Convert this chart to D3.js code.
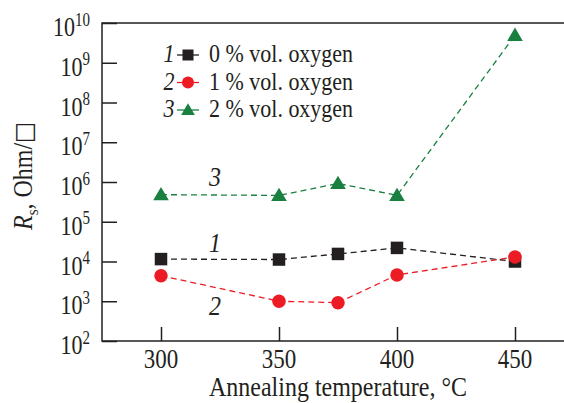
<!DOCTYPE html>
<html><head><meta charset="utf-8">
<script src="https://cdn.jsdelivr.net/npm/d3@7"></script>
<style>
html,body{margin:0;padding:0;background:#fff;}
svg{display:block;font-family:"Liberation Serif","Times New Roman",serif;}
</style></head>
<body>
<svg id="chart" width="564" height="403"></svg>
<script>
const temperatures = [300, 350, 375, 400, 450];
const series0 = [1.15e4, 1.12e4, 1.55e4, 2.2e4, 1.0e4];
const series1 = [4.4e3, 1.0e3, 0.92e3, 4.6e3, 1.3e4];
const series2 = [4.8e5, 4.6e5, 9.2e5, 4.6e5, 4.9e9];
const seriesNames = ["0 % vol. oxygen", "1 % vol. oxygen", "2 % vol. oxygen"];
const seriesNumbers = ["1", "2", "3"];
const xTicks = [300, 350, 400, 450];
const yExponents = [2, 3, 4, 5, 6, 7, 8, 9, 10];
const colors = ["#231f20", "#ed1c24", "#1a8040"];
const shapes = ["square", "circle", "triangle"];

const svg = d3.select("#chart");
const L = 102, T = 23, B = 341, R = 574;
const x = d3.scaleLinear().domain([275, 475]).range([L, R]);
const y = d3.scaleLog().domain([1e2, 1e10]).range([B, T]);
const ink = "#231f20";

// frame
svg.append("rect").attr("x", L).attr("y", T).attr("width", R - L).attr("height", B - T)
  .attr("fill", "none").attr("stroke", ink).attr("stroke-width", 1.5);

// y axis ticks inward
const yAxis = d3.axisRight(y).tickValues(yExponents.map(e => Math.pow(10, e)))
  .tickSize(15).tickFormat("");
const gy = svg.append("g").attr("transform", `translate(${L},0)`).call(yAxis);
gy.select(".domain").remove();
gy.selectAll("line").attr("stroke", ink).attr("stroke-width", 1.5);

// y tick labels (slightly stretched vertically like the reference)
const yl = svg.append("g");
yExponents.forEach(e => {
  const t = yl.append("text")
    .attr("transform", `translate(90,${y(Math.pow(10, e)) + 13}) scale(1,1.22)`)
    .attr("text-anchor", "end").attr("fill", ink).style("font-size", "22px");
  t.append("tspan").text("10");
  t.append("tspan").attr("dy", -8.5).style("font-size", "15px").text(String(e));
});

// x axis ticks inward
const xAxis = d3.axisTop(x).tickValues(xTicks).tickSize(14).tickFormat("");
const gx = svg.append("g").attr("transform", `translate(0,${B})`).call(xAxis);
gx.select(".domain").remove();
gx.selectAll("line").attr("stroke", ink).attr("stroke-width", 1.5);
xTicks.forEach(v => {
  svg.append("text").attr("transform", `translate(${x(v)},${B + 27}) scale(1,1.2)`)
    .attr("text-anchor", "middle").attr("fill", ink).style("font-size", "23px").text(v);
});

// axis titles
svg.append("text").attr("transform", `translate(${(x(300) + x(450)) / 2},396) scale(1,1.12)`)
  .attr("text-anchor", "middle").attr("fill", ink).style("font-size", "24px")
  .text("Annealing temperature, °C");

const yt = svg.append("text").attr("transform", "translate(32,176) rotate(-90) scale(1,1.12)")
  .attr("text-anchor", "middle").attr("fill", ink).style("font-size", "24px");
yt.append("tspan").style("font-style", "italic").text("R");
yt.append("tspan").attr("dy", 5).style("font-size", "15px").text("s");
yt.append("tspan").attr("dy", -5).text(", Ohm/");
yt.append("tspan").style("font-family", "DejaVu Sans").style("font-size", "22px").text("□");

function drawMarker(g, shape, cx, cy, color, s) {
  if (shape === "square") {
    g.append("rect").attr("x", cx - s / 2).attr("y", cy - s / 2).attr("width", s).attr("height", s).attr("fill", color);
  } else if (shape === "circle") {
    g.append("circle").attr("cx", cx).attr("cy", cy).attr("r", s / 2 + 0.5).attr("fill", color);
  } else {
    const h = s * 1.0, w = s * 1.25;
    g.append("path").attr("d", `M${cx},${cy - h * 0.62}L${cx + w / 2},${cy + h * 0.45}L${cx - w / 2},${cy + h * 0.45}Z`).attr("fill", color);
  }
}

const allSeries = [series0, series1, series2];
const line = d3.line().x(d => x(d[0])).y(d => y(d[1]));
allSeries.forEach((vals, i) => {
  const pts = temperatures.map((t, j) => [t, vals[j]]);
  svg.append("path").attr("d", line(pts)).attr("fill", "none")
    .attr("stroke", colors[i]).attr("stroke-width", 1.3).attr("stroke-dasharray", "6,4");
});
allSeries.forEach((vals, i) => {
  const g = svg.append("g");
  temperatures.forEach((t, j) => drawMarker(g, shapes[i], x(t), y(vals[j]), colors[i], 12.5));
});

// curve labels
const curveLabelPos = [[215, 252], [215, 315], [215, 186]];
curveLabelPos.forEach((p, i) => {
  svg.append("text").attr("transform", `translate(${p[0]},${p[1]}) scale(1,1.15)`)
    .attr("text-anchor", "middle").attr("fill", ink).style("font-size", "24px")
    .style("font-style", "italic").text(seriesNumbers[i]);
});

// legend
seriesNames.forEach((name, i) => {
  const cy = 55 + i * 27.5;
  const g = svg.append("g");
  g.append("text").attr("transform", `translate(169,${cy + 7}) scale(1,1.1)`).attr("text-anchor", "middle")
    .attr("fill", ink).style("font-size", "22px").style("font-style", "italic").text(seriesNumbers[i]);
  g.append("line").attr("x1", 177).attr("x2", 199).attr("y1", cy).attr("y2", cy)
    .attr("stroke", colors[i]).attr("stroke-width", 1.3);
  drawMarker(g, shapes[i], 188, cy, colors[i], 11);
  g.append("text").attr("transform", `translate(209,${cy + 7}) scale(1,1.1)`).attr("fill", ink)
    .style("font-size", "22px").text(name);
});
</script>
</body></html>
